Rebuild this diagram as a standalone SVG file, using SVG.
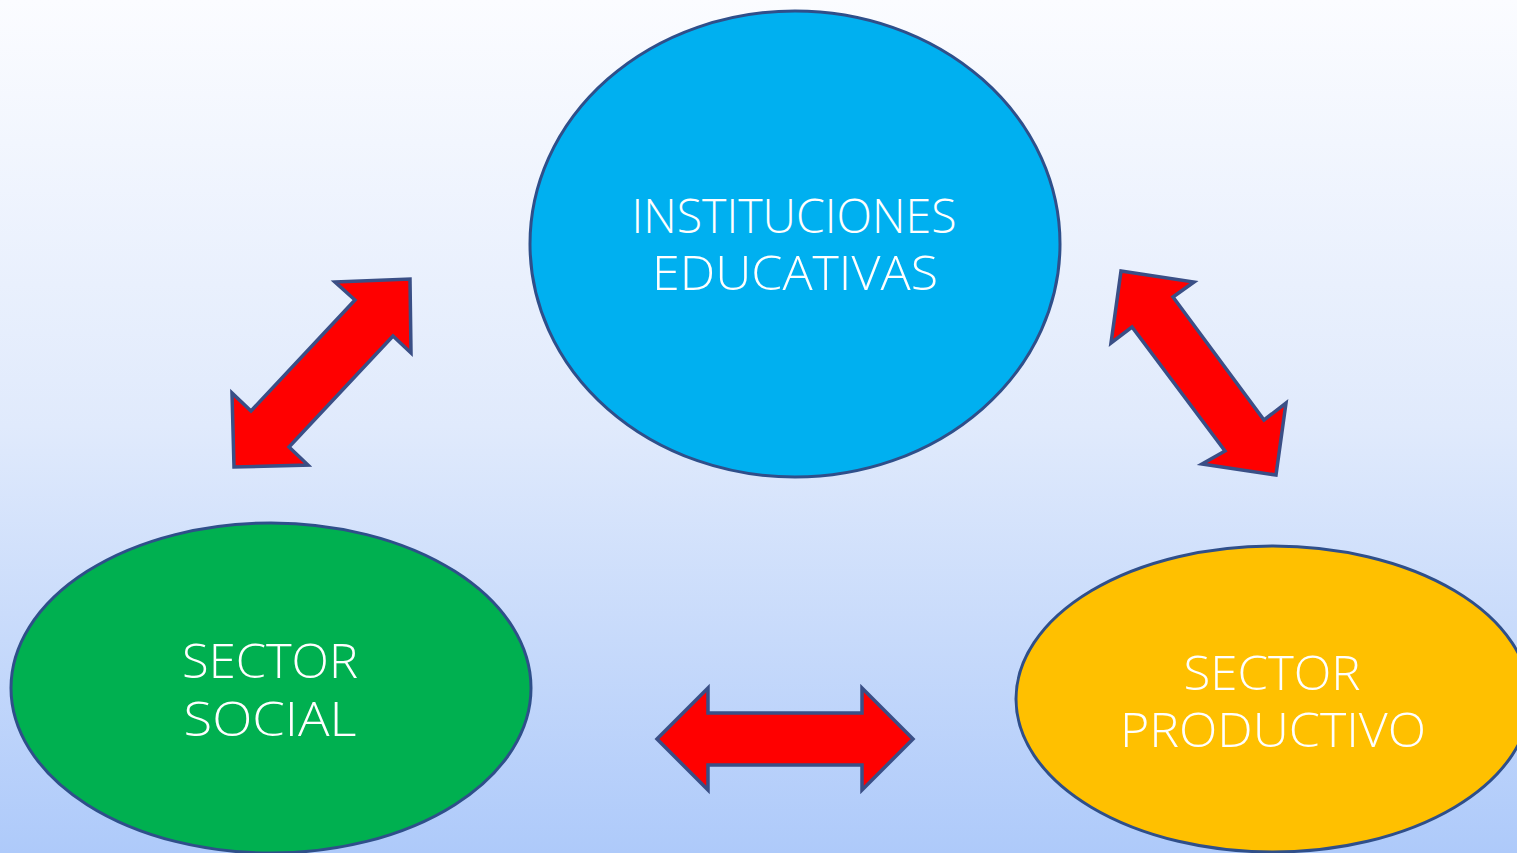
<svg xmlns="http://www.w3.org/2000/svg" width="1517" height="853" viewBox="0 0 1517 853">
<defs>
<linearGradient id="bg" x1="0" y1="0" x2="0" y2="1">
<stop offset="0" stop-color="#fbfcff"/>
<stop offset="0.5" stop-color="#e0eafc"/>
<stop offset="1" stop-color="#aecafa"/>
</linearGradient>
<style>
.node{stroke:#2f4f8a;stroke-width:3}
.arrow{fill:#ff0000;stroke:#3a4f86;stroke-width:3.5;stroke-linejoin:miter}
.lbl{fill:#ffffff;font-family:"Open Sans","Lato","DejaVu Sans",sans-serif;font-weight:300;font-size:48px;text-anchor:middle}
</style>
</defs>
<rect x="0" y="0" width="1517" height="853" fill="url(#bg)"/>
<g id="instituciones">
<ellipse class="node" cx="795" cy="244" rx="265" ry="233" fill="#00b0f0"/>
<text class="lbl" x="794" y="233" textLength="325" lengthAdjust="spacingAndGlyphs">INSTITUCIONES</text>
<text class="lbl" x="795" y="290" textLength="286" lengthAdjust="spacingAndGlyphs">EDUCATIVAS</text>
</g>
<g id="sector-social">
<ellipse class="node" cx="271" cy="688" rx="260" ry="165" fill="#00b050"/>
<text class="lbl" x="270" y="678" textLength="176" lengthAdjust="spacingAndGlyphs">SECTOR</text>
<text class="lbl" x="270" y="736" textLength="173" lengthAdjust="spacingAndGlyphs">SOCIAL</text>
</g>
<g id="sector-productivo">
<ellipse class="node" cx="1273" cy="699" rx="257" ry="153" fill="#ffc000"/>
<text class="lbl" x="1272" y="690" textLength="177" lengthAdjust="spacingAndGlyphs">SECTOR</text>
<text class="lbl" x="1273" y="747" textLength="306" lengthAdjust="spacingAndGlyphs">PRODUCTIVO</text>
</g>
<g id="connectors">
<polygon class="arrow" points="335,282 410,279 411,353 393,336 289,447 308,465 234,467 232,393 251,411 355,300"/>
<polygon class="arrow" points="1121,271 1194,282 1173,297 1264,420 1286,403 1276,475 1202,464 1225,451 1132,327 1111,343"/>
<polygon class="arrow" points="657,739 708,688 708,713 862,713 862,688 913,739 862,790 862,765 708,765 708,790"/>
</g>
</svg>
